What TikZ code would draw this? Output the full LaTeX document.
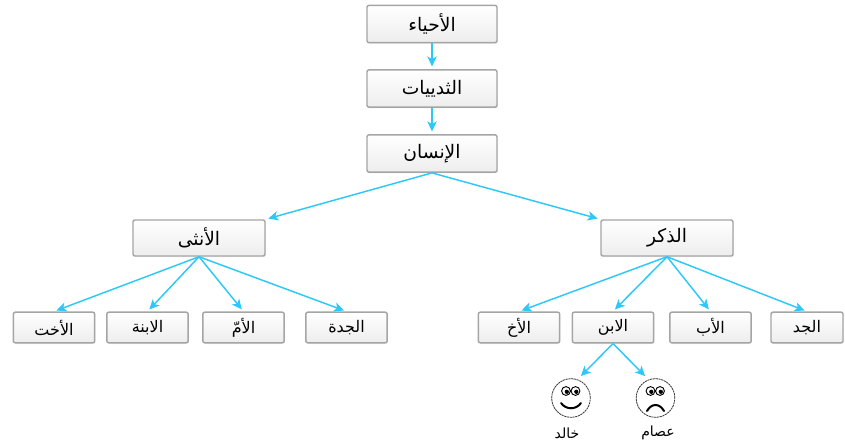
\documentclass[tikz,border=0pt]{standalone}
\usepackage{fontspec}
\newfontfamily\arabicfont[Script=Arabic]{DejaVu Sans}
\TeXXeTstate=1
\usetikzlibrary{arrows.meta,shadows}
\definecolor{linkblue}{RGB}{45,200,250}
\definecolor{boxline}{RGB}{165,165,165}
\newcommand{\artext}[1]{{\arabicfont\beginR #1\endR}}
\tikzset{
  box/.style={draw=boxline, line width=1.1pt, rounded corners=1.5pt,
    top color=white, bottom color=gray!14, text=black,
    drop shadow={opacity=0.12, shadow xshift=0.6pt, shadow yshift=-0.9pt},
    inner sep=0pt},
  bigbox/.style={box, minimum width=97.5pt, minimum height=28pt, font=\fontsize{14}{16}\selectfont},
  midbox/.style={box, minimum width=99pt, minimum height=27pt, font=\fontsize{14}{16}\selectfont},
  smallbox/.style={box, minimum width=61pt, minimum height=23pt, font=\fontsize{12}{14}\selectfont},
  facering/.style={draw=black!80, line width=0.6pt, dash pattern=on 1.6pt off 0.5pt},
  personlabel/.style={font=\fontsize{10.5}{12}\selectfont},
  link/.style={draw=linkblue, line width=1.1pt, -{Stealth[length=7.5pt,width=7pt,inset=2pt]},
    shorten >=2pt}
}
\begin{document}
\begin{tikzpicture}[x=0.75pt, y=-0.75pt]
      \useasboundingbox (0,0) rectangle (845,443);
      \path
        (432,24) node[bigbox] (alive){\artext{الأحياء}}
        (432,88.5) node[bigbox] (mammals){\artext{الثدييات}}
        (432,153.5) node[bigbox] (human){\artext{الإنسان}}
        (199,238) node[midbox] (female){\artext{الأنثى}}
        (667,238) node[midbox] (male){\artext{الذكر}}
        (54,327.5) node[smallbox] (sister){\artext{الأخت}}
        (147.5,327.5) node[smallbox] (daughter){\artext{الابنة}}
        (243.5,327.5) node[smallbox] (mother){\artext{الأمّ}}
        (346.5,327.5) node[smallbox] (grandma){\artext{الجدة}}
        (519,327.5) node[smallbox] (brother){\artext{الأخ}}
        (613,327.5) node[smallbox] (son){\artext{الابن}}
        (710.5,327.5) node[smallbox] (father){\artext{الأب}}
        (807,327.5) node[smallbox, minimum width=54pt] (grandpa){\artext{الجد}}
        (567,433) node[personlabel] (khalidname){\artext{خالد}}
        (658,433) node[personlabel] (essamname){\artext{عصام}};
      \coordinate (khalid) at (571,398);
      \coordinate (essam) at (655.5,398);
      \coordinate (khalidtop) at (579,378);
      \coordinate (essamtop) at (647,378);
      \begin{scope}[link]
        \draw (alive.south) to (mammals.north);
        \draw (mammals.south) to (human.north);
        \draw (human.south) to (female.north east);
        \draw (human.south) to (male.north west);
        \draw (female.south) to (sister.north);
        \draw (female.south) to (daughter.north);
        \draw (female.south) to (mother.north);
        \draw (female.south) to (grandma.north);
        \draw (male.south) to (brother.north);
        \draw (male.south) to (son.north);
        \draw (male.south) to (father.north);
        \draw (male.south) to (grandpa.north);
        \draw (son.south) to (khalidtop);
        \draw (son.south) to (essamtop);
      \end{scope}
      % faces
      \begin{scope}[shift={(khalid)}, line width=0.7pt]
        \draw[facering] (0,0) circle (14.5pt);
        \draw (-5,-7) circle (3.3pt) (4.5,-7) circle (3.3pt);
        \fill (-4.2,-6.2) circle (1.6pt) (5.3,-6.2) circle (1.6pt);
        \draw[line width=1.5pt, line cap=round] (-10,5) .. controls (-5,12) and (5,12) .. (10,5);
      \end{scope}
      \begin{scope}[shift={(essam)}, line width=0.7pt]
        \draw[facering] (0,0) circle (14.5pt);
        \draw (-5,-7) circle (3.3pt) (4.5,-7) circle (3.3pt);
        \fill (-4.2,-6.2) circle (1.6pt) (5.3,-6.2) circle (1.6pt);
        \draw[line width=1.5pt, line cap=round] (-8.5,13) .. controls (-4,5) and (4,5) .. (8.5,13);
      \end{scope}
    \end{tikzpicture}
\end{document}
